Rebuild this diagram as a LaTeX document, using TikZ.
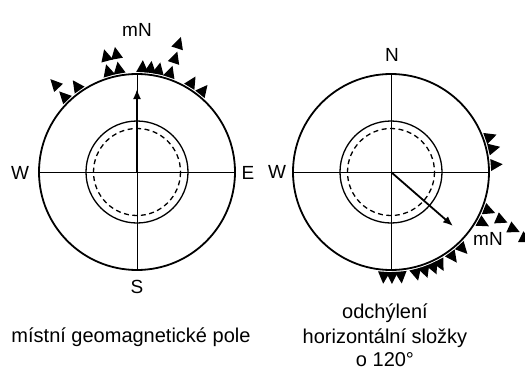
\documentclass[tikz,border=0pt]{standalone}
\usepackage{fontspec}
\setmainfont{Liberation Sans}
\usetikzlibrary{arrows.meta}
\begin{document}
\begin{tikzpicture}[x=1pt,y=-1pt,
  outer/.style={circle,draw,line width=1.8pt,minimum size=196pt,inner sep=0pt},
  innerc/.style={line width=1.3pt},
  dashc/.style={line width=1.3pt,dash pattern=on 5pt off 3.5pt},
  axis/.style={line width=1pt},
  vec/.style={line width=1.8pt,-{Latex[length=10pt,width=8pt]}},
  lab/.style={font=\fontsize{19}{22}\selectfont,inner sep=0pt},
  captxt/.style={font=\fontsize{20}{24}\selectfont,inner sep=0pt,anchor=base},
]
\useasboundingbox (0,0) rectangle (525,378);

% ---------- left compass ----------
\node[outer] (Lc) at (137,172) {};
\draw[innerc] (Lc.center) circle[radius=51];
\draw[dashc] (Lc.center) circle[radius=43.5];
\draw[axis] (Lc.north) -- (Lc.south);
\draw[axis] (Lc.west) -- (Lc.east);
\coordinate (Ltip) at (137,89);
\draw[vec] (Lc.center) -- (Ltip);
\foreach \a/\d in {-44/105,-43/120,-35/105,-16/105,-15/120,-10/105,-10/120,
                   3/105,7.5/105,12/105,18.5/105,18.5/120,18/135,31.5/105,39/105}
  \fill ({137+(\d+7)*sin(\a)},{172-(\d+7)*cos(\a)})
     -- ({137+(\d-5)*sin(\a)+6*cos(\a)},{172-(\d-5)*cos(\a)+6*sin(\a)})
     -- ({137+(\d-5)*sin(\a)-6*cos(\a)},{172-(\d-5)*cos(\a)-6*sin(\a)}) -- cycle;
\node[lab] (LmN) at (137,30) {mN};
\node[lab] (LW) at (20,173) {W};
\node[lab] (LE) at (248,173) {E};
\node[lab] (LS) at (137,287) {S};

% ---------- right compass ----------
\node[outer] (Rc) at (391,172) {};
\draw[innerc] (Rc.center) circle[radius=51];
\draw[dashc] (Rc.center) circle[radius=43.5];
\draw[axis] (Rc.north) -- (Rc.south);
\draw[axis] (Rc.west) -- (Rc.east);
\coordinate (Rtip) at (453,226);
\draw[vec] (Rc.center) -- (Rtip);
\foreach \a/\d in {70.5/105,77/105,86/105,111.5/105,113.5/120,115/135,116.5/150,119/105,
                   137/105,144/105,152/105,156/105,161/105,166/105,174.5/105,179.5/105,184/105}
  \fill ({391+(\d+7)*sin(\a)},{172-(\d+7)*cos(\a)})
     -- ({391+(\d-5)*sin(\a)+6*cos(\a)},{172-(\d-5)*cos(\a)+6*sin(\a)})
     -- ({391+(\d-5)*sin(\a)-6*cos(\a)},{172-(\d-5)*cos(\a)-6*sin(\a)}) -- cycle;
\node[lab] (RN) at (392,55) {N};
\node[lab] (RW) at (277,172) {W};
\node[lab] (RmN) at (488,239) {mN};

% ---------- captions ----------
\node[captxt] (Lcap) at (131,342) {místní geomagnetické pole};
\node[captxt] (Rcap1) at (385,318) {odchýlení};
\node[captxt] (Rcap2) at (385,343) {horizontální složky};
\node[captxt] (Rcap3) at (385,366) {o 120°};
\end{tikzpicture}
\end{document}
